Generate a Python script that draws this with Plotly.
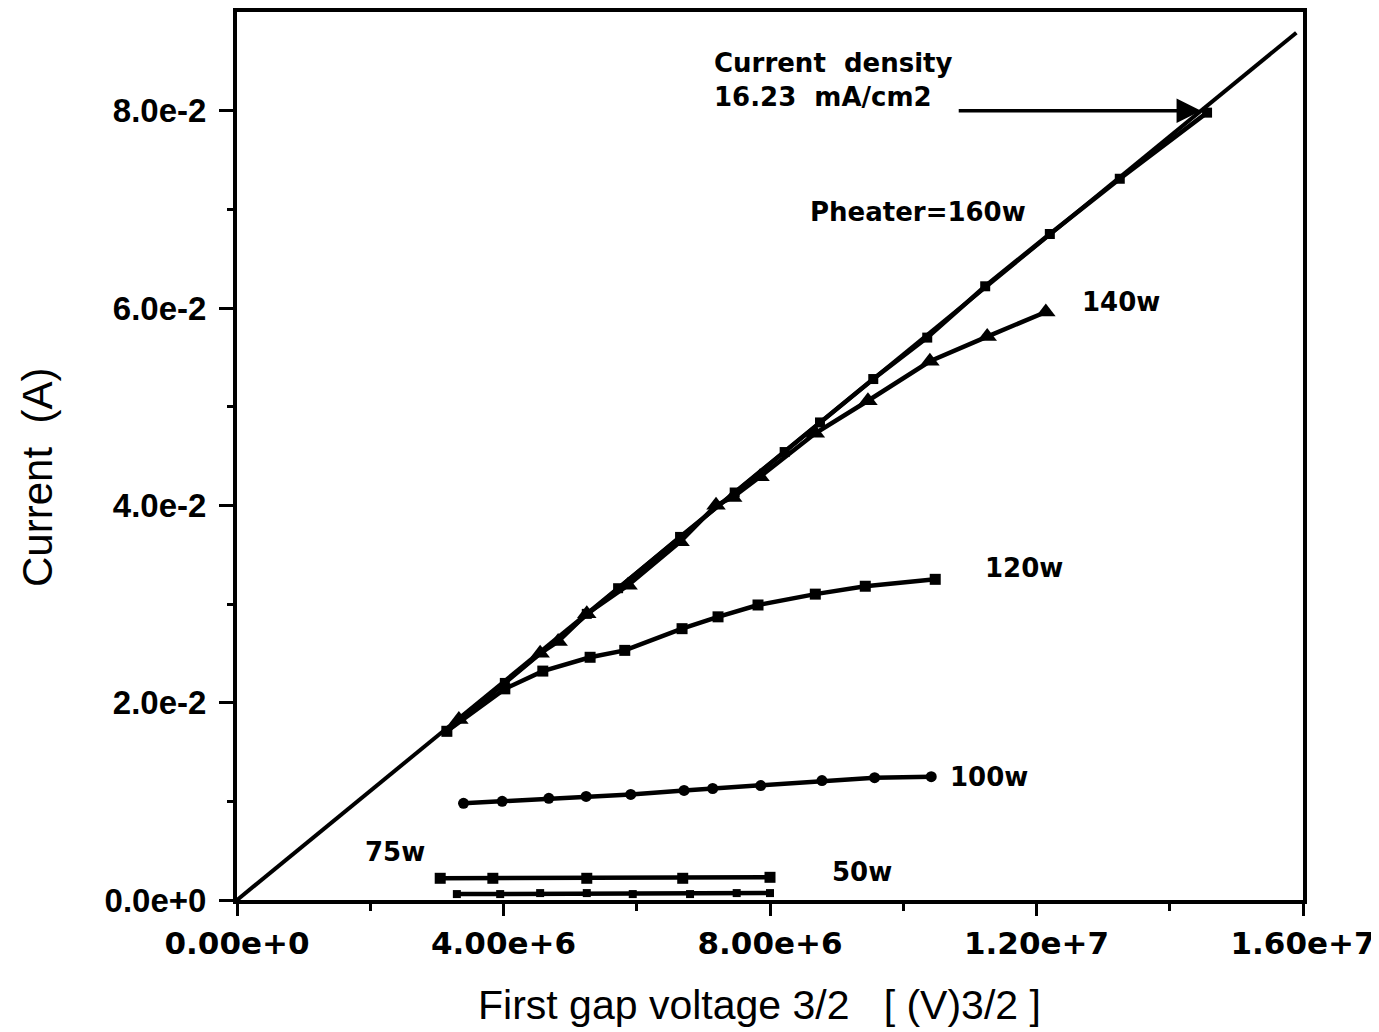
import plotly.graph_objects as go

# Reference (current density) line
ref_x = [0.0, 1.59e7]
ref_y = [0.0, 0.0879]

# Pheater = 160 W
x160 = [3.15e6, 4.02e6, 5.25e6, 5.72e6, 6.65e6, 7.47e6, 8.22e6, 8.75e6, 9.55e6, 1.036e7, 1.123e7, 1.22e7, 1.325e7, 1.456e7]
y160 = [0.0171, 0.0220, 0.0290, 0.0316, 0.0368, 0.0413, 0.0454, 0.0484, 0.0528, 0.0570, 0.0622, 0.0675, 0.0731, 0.0798]

# 140 W
x140 = [3.33e6, 4.55e6, 4.82e6, 5.25e6, 5.87e6, 6.65e6, 7.19e6, 7.44e6, 7.85e6, 8.68e6, 9.47e6, 1.04e7, 1.126e7, 1.214e7]
y140 = [0.0183, 0.0250, 0.0262, 0.0290, 0.0319, 0.0363, 0.0400, 0.0408, 0.0429, 0.0473, 0.0506, 0.0546, 0.0571, 0.0596]

# 120 W
x120 = [3.15e6, 4.02e6, 4.59e6, 5.30e6, 5.82e6, 6.68e6, 7.22e6, 7.82e6, 8.68e6, 9.43e6, 1.048e7]
y120 = [0.0171, 0.0214, 0.0232, 0.0246, 0.0253, 0.0275, 0.0287, 0.0299, 0.0310, 0.0318, 0.0325]

# 100 W
x100 = [3.40e6, 3.98e6, 4.68e6, 5.24e6, 5.91e6, 6.71e6, 7.14e6, 7.86e6, 8.78e6, 9.57e6, 1.042e7]
y100 = [0.0098, 0.0100, 0.0103, 0.0105, 0.0107, 0.0111, 0.0113, 0.0116, 0.0121, 0.0124, 0.0125]

# 75 W
x75 = [3.05e6, 3.84e6, 5.25e6, 6.69e6, 8.00e6]
y75 = [0.0022, 0.0022, 0.0022, 0.0022, 0.0023]

# 50 W
x50 = [3.30e6, 3.95e6, 4.55e6, 5.25e6, 5.94e6, 6.80e6, 7.50e6, 8.00e6]
y50 = [0.0006, 0.0006, 0.0007, 0.0007, 0.0006, 0.0006, 0.0007, 0.0007]

x_tickvals = [0, 4e6, 8e6, 1.2e7, 1.6e7]
x_ticktext = ["0.00e+0", "4.00e+6", "8.00e+6", "1.20e+7", "1.60e+7"]
y_tickvals = [0, 0.02, 0.04, 0.06, 0.08]
y_ticktext = ["0.0e+0", "2.0e-2", "4.0e-2", "6.0e-2", "8.0e-2"]

FONT = "Liberation Sans, Arial, sans-serif"
BFONT = "DejaVu Sans, sans-serif"

fig = go.Figure()
fig.add_trace(go.Scatter(x=ref_x, y=ref_y, mode="lines", line=dict(color="black", width=4), showlegend=False))
fig.add_trace(go.Scatter(x=x160, y=y160, mode="lines+markers", line=dict(color="black", width=4.5),
                         marker=dict(symbol="square", size=10, color="black"), showlegend=False))
fig.add_trace(go.Scatter(x=x140, y=y140, mode="lines+markers", line=dict(color="black", width=4.5),
                         marker=dict(symbol="triangle-up", size=17, color="black"), showlegend=False))
fig.add_trace(go.Scatter(x=x120, y=y120, mode="lines+markers", line=dict(color="black", width=4.5),
                         marker=dict(symbol="square", size=11, color="black"), showlegend=False))
fig.add_trace(go.Scatter(x=x100, y=y100, mode="lines+markers", line=dict(color="black", width=4.5),
                         marker=dict(symbol="circle", size=11, color="black"), showlegend=False))
fig.add_trace(go.Scatter(x=x75, y=y75, mode="lines+markers", line=dict(color="black", width=4.5),
                         marker=dict(symbol="square", size=11, color="black"), showlegend=False))
fig.add_trace(go.Scatter(x=x50, y=y50, mode="lines+markers", line=dict(color="black", width=4.5),
                         marker=dict(symbol="square", size=8, color="black"), showlegend=False))

lab_font = dict(family=BFONT, size=26, color="black", weight="bold")
annos = [
    dict(x=7.13e6, y=0.0831, text="Current  density<br>16.23  mA/cm2", align="left",
         xanchor="left", yanchor="middle"),
    dict(x=8.57e6, y=0.0697, text="Pheater=160w", xanchor="left", yanchor="middle"),
    dict(x=1.265e7, y=0.0606, text="140w", xanchor="left", yanchor="middle"),
    dict(x=1.12e7, y=0.0336, text="120w", xanchor="left", yanchor="middle"),
    dict(x=1.067e7, y=0.0125, text="100w", xanchor="left", yanchor="middle"),
    dict(x=1.89e6, y=0.0049, text="75w", xanchor="left", yanchor="middle"),
    dict(x=8.9e6, y=0.0028, text="50w", xanchor="left", yanchor="middle"),
]
for a in annos:
    fig.add_annotation(showarrow=False, font=lab_font, xref="x", yref="y", **a)

fig.add_annotation(x=1.447e7, y=0.0800, ax=1.081e7, ay=0.0800, xref="x", yref="y", axref="x", ayref="y",
                   showarrow=True, arrowhead=2, arrowsize=1.4, arrowwidth=3.5, arrowcolor="black", text="")

fig.add_annotation(text="Current  (A)", xref="paper", yref="paper", x=-0.187, y=0.476, textangle=-90,
                   xanchor="center", yanchor="middle",
                   showarrow=False, font=dict(family=FONT, size=42, color="black"))
fig.add_annotation(text="First gap voltage 3/2   [ (V)3/2 ]", xref="paper", yref="paper", x=0.49, y=-0.118,
                   showarrow=False, yanchor="middle", xanchor="center",
                   font=dict(family=FONT, size=41, color="black"))

fig.update_xaxes(range=[0, 1.6e7], tickvals=x_tickvals, ticktext=x_ticktext, ticks="outside", ticklen=12,
                 tickwidth=3, tickcolor="black", showline=True, linecolor="black", linewidth=4, mirror=True,
                 showgrid=False, zeroline=False, ticklabelstandoff=1,
                 tickfont=dict(family=BFONT, size=31, color="black", weight="bold"),
                 minor=dict(tickvals=[2e6, 6e6, 1e7, 1.4e7], ticks="outside", ticklen=7, tickwidth=3, tickcolor="black"))
fig.update_yaxes(range=[0, 0.09], tickvals=y_tickvals, ticktext=y_ticktext, ticks="outside", ticklen=14,
                 tickwidth=3, tickcolor="black", showline=True, linecolor="black", linewidth=4, mirror=True,
                 showgrid=False, zeroline=False, ticklabelstandoff=6,
                 tickfont=dict(family=FONT, size=33, color="black", weight="bold"),
                 minor=dict(tickvals=[0.01, 0.03, 0.05, 0.07], ticks="outside", ticklen=6, tickwidth=3, tickcolor="black"))
fig.update_layout(width=1379, height=1032, margin=dict(l=229, r=84, t=4, b=140, autoexpand=False),
                  plot_bgcolor="white", paper_bgcolor="white")
fig.write_html("out.html")
